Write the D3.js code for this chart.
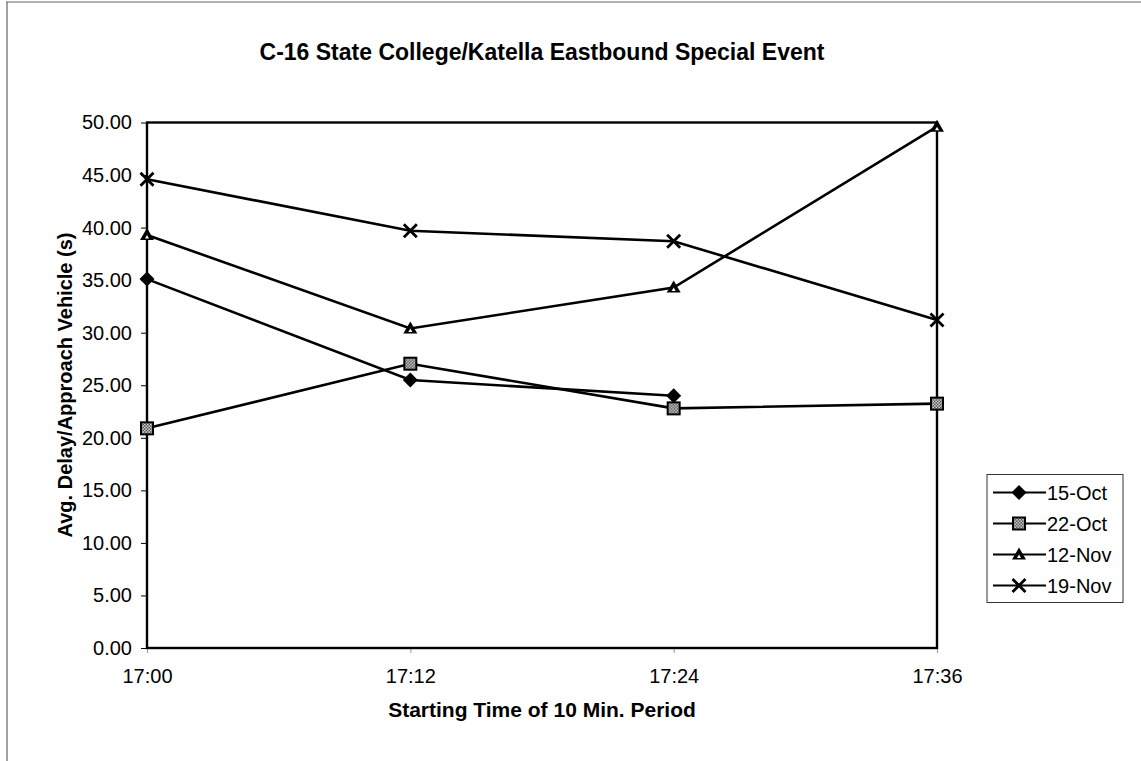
<!DOCTYPE html>
<html>
<head>
<meta charset="utf-8">
<script src="https://cdn.jsdelivr.net/npm/d3@7"></script>
<style>
  body { margin: 0; background: #fff; }
  svg { display: block; font-family: "Liberation Sans", Arial, sans-serif; }
</style>
</head>
<body>
<svg id="chart" width="1141" height="761"></svg>
<script>
const categories = ["17:00", "17:12", "17:24", "17:36"];
const seriesNames = ["15-Oct", "22-Oct", "12-Nov", "19-Nov"];
const oct15 = [35.1, 25.5, 24.0, null];
const oct22 = [20.9, 27.05, 22.8, 23.25];
const nov12 = [39.3, 30.4, 34.3, 49.6];
const nov19 = [44.6, 39.7, 38.7, 31.2];
const yTicks = [0, 5, 10, 15, 20, 25, 30, 35, 40, 45, 50];
const markers = ["diamond", "square", "triangle", "cross"];

const series = [oct15, oct22, nov12, nov19].map((vals, i) => ({
  name: seriesNames[i], marker: markers[i],
  values: vals.map((v, j) => ({ cat: categories[j], v }))
}));

const FONT = "Liberation Sans, Arial, sans-serif";
const svg = d3.select("#chart");
const pL = 147, pR = 937, pT = 122.5, pB = 648;

// outer frame (partial)
svg.append("line").attr("x1", 6).attr("x2", 1141).attr("y1", 2).attr("y2", 2)
  .attr("stroke", "#666").attr("stroke-width", 1.2);
svg.append("line").attr("x1", 7).attr("x2", 7).attr("y1", 2).attr("y2", 761)
  .attr("stroke", "#666").attr("stroke-width", 1.2);

// pattern for square marker
const defs = svg.append("defs");
const pat = defs.append("pattern").attr("id", "chk").attr("patternUnits", "userSpaceOnUse")
  .attr("width", 3).attr("height", 3);
pat.append("rect").attr("width", 3).attr("height", 3).attr("fill", "#fff");
pat.append("rect").attr("width", 1.5).attr("height", 1.5).attr("fill", "#222");
pat.append("rect").attr("x", 1.5).attr("y", 1.5).attr("width", 1.5).attr("height", 1.5).attr("fill", "#222");

const x = d3.scalePoint().domain(categories).range([pL, pR]);
const y = d3.scaleLinear().domain([0, 50]).range([pB, pT]);

// title
svg.append("text").attr("x", 542).attr("y", 60).attr("text-anchor", "middle")
  .attr("font-weight", "bold").attr("font-size", 23)
  .text("C-16 State College/Katella Eastbound Special Event");

// y axis
const yAxis = d3.axisLeft(y).tickValues(yTicks).tickFormat(d3.format(".2f"))
  .tickSize(6).tickPadding(9);
const gy = svg.append("g").attr("transform", `translate(${pL},0)`).call(yAxis);
gy.select(".domain").remove();
gy.selectAll("text").attr("font-size", 20).attr("font-family", FONT).attr("fill", "#000");
gy.selectAll("line").attr("stroke", "#000");

// x axis
const xAxis = d3.axisBottom(x).tickSize(5).tickPadding(16);
const gx = svg.append("g").attr("transform", `translate(0,${pB})`).call(xAxis);
gx.select(".domain").remove();
gx.selectAll("text").attr("font-size", 20).attr("font-family", FONT).attr("fill", "#000");
gx.selectAll("line").attr("stroke", "#999");

// plot frame
svg.append("rect").attr("x", pL).attr("y", pT).attr("width", pR - pL).attr("height", pB - pT)
  .attr("fill", "none").attr("stroke", "#000").attr("stroke-width", 2.4);

// axis titles
svg.append("text").attr("transform", `translate(72,385) rotate(-90)`).attr("text-anchor", "middle")
  .attr("font-weight", "bold").attr("font-size", 20).text("Avg. Delay/Approach Vehicle (s)");
svg.append("text").attr("x", 542).attr("y", 717).attr("text-anchor", "middle")
  .attr("font-weight", "bold").attr("font-size", 21).text("Starting Time of 10 Min. Period");

function drawMarker(g, type) {
  if (type === "diamond") {
    g.append("path").attr("d", "M0,-7.5L7.5,0L0,7.5L-7.5,0Z").attr("fill", "#000");
  } else if (type === "square") {
    g.append("rect").attr("x", -6).attr("y", -6).attr("width", 12).attr("height", 12)
      .attr("fill", "url(#chk)").attr("stroke", "#000").attr("stroke-width", 2);
  } else if (type === "triangle") {
    g.append("path").attr("d", "M0,-7L7,5L-7,5Z").attr("fill", "#000");
    g.append("path").attr("d", "M0,0L2,3.5L-2,3.5Z").attr("fill", "#fff");
  } else {
    g.append("path").attr("d", "M-6.5,-6.5L6.5,6.5M-6.5,6.5L6.5,-6.5").attr("stroke", "#000")
      .attr("stroke-width", 2.8).attr("fill", "none");
  }
}

const line = d3.line().defined(d => d.v !== null).x(d => x(d.cat)).y(d => y(d.v));

series.forEach(s => {
  svg.append("path").datum(s.values).attr("d", line).attr("fill", "none")
    .attr("stroke", "#000").attr("stroke-width", 2.6);
});
series.forEach(s => {
  s.values.filter(d => d.v !== null).forEach(d => {
    const g = svg.append("g").attr("transform", `translate(${x(d.cat)},${y(d.v)})`);
    drawMarker(g, s.marker);
  });
});

// legend
const lg = svg.append("g");
lg.append("rect").attr("x", 987).attr("y", 474.5).attr("width", 136).attr("height", 128)
  .attr("fill", "#fff").attr("stroke", "#333").attr("stroke-width", 1);
const legY = d3.scalePoint().domain(seriesNames).range([492.5, 585.5]);
series.forEach(s => {
  const yy = legY(s.name);
  lg.append("line").attr("x1", 993).attr("x2", 1046).attr("y1", yy).attr("y2", yy)
    .attr("stroke", "#000").attr("stroke-width", 2);
  drawMarker(lg.append("g").attr("transform", `translate(1019,${yy})`), s.marker);
  lg.append("text").attr("x", 1047).attr("y", yy).attr("dy", "0.35em")
    .attr("font-size", 20).text(s.name);
});
</script>
</body>
</html>
